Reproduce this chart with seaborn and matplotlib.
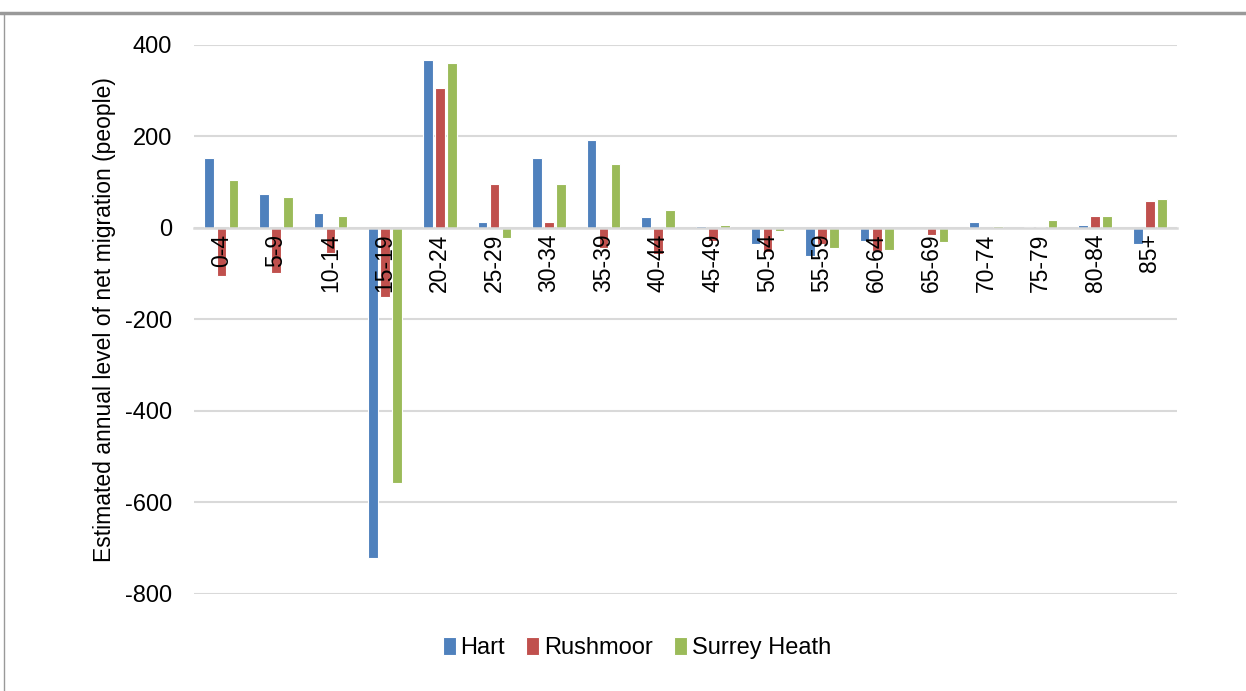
import pandas as pd
import matplotlib
matplotlib.use("Agg")
import matplotlib.pyplot as plt
from matplotlib.lines import Line2D
import seaborn as sns

# data
ages = ["0-4", "5-9", "10-14", "15-19", "20-24", "25-29", "30-34", "35-39", "40-44",
        "45-49", "50-54", "55-59", "60-64", "65-69", "70-74", "75-79", "80-84", "85+"]
hart = [153, 74, 33, -721, 367, 13, 153, 192, 23, 4, -35, -62, -28, -2, 12, 3, 7, -34]
rushmoor = [-106, -98, -55, -151, 306, 96, 13, -44, -57, -28, -53, -35, -50, -15, -3, 3, 27, 60]
surrey_heath = [105, 68, 26, -557, 361, -22, 96, 140, 39, 7, -6, -44, -48, -31, 4, 17, 27, 64]
areas = ["Hart", "Rushmoor", "Surrey Heath"]
colors = ["#4F81BD", "#C0504D", "#9BBB59"]
yticks = [-800, -600, -400, -200, 0, 200, 400]

df = pd.DataFrame({"age": ages * 3,
                   "area": [a for a in areas for _ in ages],
                   "value": hart + rushmoor + surrey_heath})

sns.set_style("white")
plt.rcParams["font.family"] = ["Liberation Sans", "DejaVu Sans"]
plt.rcParams["axes.unicode_minus"] = False
plt.rcParams["text.color"] = "black"
plt.rcParams["xtick.color"] = "black"
plt.rcParams["ytick.color"] = "black"
plt.rcParams["axes.labelcolor"] = "black"

fig = plt.figure(figsize=(12.46, 6.91), dpi=100)
ax = fig.add_axes([0.1557, 0.1404, 0.789, 0.7945])

sns.barplot(data=df, x="age", y="value", hue="area", order=ages, hue_order=areas,
            palette=colors, saturation=1, width=0.66, gap=0.2, edgecolor="white",
            linewidth=0.8, ax=ax, legend=True)

ax.set_ylim(-800, 400)
ax.set_yticks(yticks)
ax.set_xlim(-0.5, len(ages) - 0.5)
ax.yaxis.grid(True, color="#D9D9D9", linewidth=1.5)
ax.set_axisbelow(True)
ax.xaxis.set_zorder(3)

for s in ["top", "right", "left"]:
    ax.spines[s].set_visible(False)
ax.spines["bottom"].set_position(("data", 0))
ax.spines["bottom"].set_color("#D9D9D9")
ax.spines["bottom"].set_linewidth(1.8)

ax.tick_params(axis="x", length=0, pad=4, labelsize=16.5, rotation=90)
ax.tick_params(axis="y", length=0, pad=16, labelsize=17)
ax.set_xlabel("")
ax.set_ylabel("Estimated annual level of net migration (people)", fontsize=16.5, labelpad=6)

handles, labels = ax.get_legend_handles_labels()
ax.get_legend().remove()
fig.legend(handles, labels, loc="center", bbox_to_anchor=(0.511, 0.062), ncol=3,
           frameon=False, fontsize=17, handlelength=0.55, handleheight=0.8,
           handletextpad=0.2, columnspacing=0.9)

# outer frame lines
fig.add_artist(Line2D([0, 1], [0.981, 0.981], color="#999999", linewidth=2.5,
                      transform=fig.transFigure))
fig.add_artist(Line2D([0.003, 0.003], [0, 0.981], color="#999999", linewidth=1,
                      transform=fig.transFigure))

fig.savefig("out.png", dpi=100)
